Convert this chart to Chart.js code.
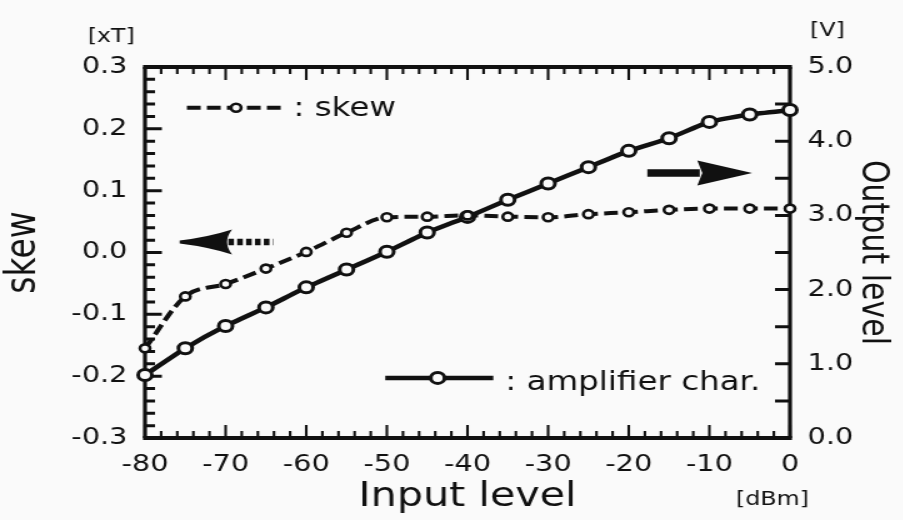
<!DOCTYPE html>
<html>
<head>
<meta charset="utf-8">
<script src="https://cdn.jsdelivr.net/npm/chart.js@4.4.0/dist/chart.umd.min.js"></script>
<style>
  html, body { margin: 0; padding: 0; background: #fafafa; overflow: hidden; }
  #wrap { width: 722px; height: 520px; transform: scaleX(1.25); transform-origin: 0 0; position: relative; }
  canvas { display: block; }
</style>
</head>
<body>
<div id="wrap"><canvas id="c"></canvas></div>
<script>
// ---- data ----
const inputLevel = [-80, -75, -70, -65, -60, -55, -50, -45, -40, -35, -30, -25, -20, -15, -10, -5, 0];
const skewValues = [-0.155, -0.071, -0.051, -0.026, 0.001, 0.032, 0.057, 0.058, 0.060, 0.058, 0.057, 0.062, 0.065, 0.069, 0.071, 0.071, 0.071];
const amplifierValues = [0.85, 1.21, 1.51, 1.76, 2.03, 2.27, 2.51, 2.77, 2.98, 3.21, 3.43, 3.65, 3.87, 4.04, 4.26, 4.36, 4.42];
const xTickValues = [-80, -70, -60, -50, -40, -30, -20, -10, 0];
const skewTickValues = [-0.3, -0.2, -0.1, 0.0, 0.1, 0.2, 0.3];
const outputTickValues = [0, 1, 2, 3, 4, 5];

// ---- annotation placement (data coordinates) ----
const skewLegend = { x1: -74.8, x2: -62.6, marker: -68.7, textX: -61.6, y: 0.234, label: ': skew' };
const ampLegend = { x1: -50.2, x2: -36.8, marker: -43.7, textX: -35.3, y: 0.81, label: ': amplifier char.' };
const arrowLeft = { tipX: -75.7, backX: -69.2, tailX: -64.1, y: 0.017 };
const arrowRight = { tailX: -17.7, backX: -11.5, tipX: -4.7, y: 3.57 };

const INK = '#111';
const FONT = '"DejaVu Sans", "Liberation Sans", sans-serif';
Chart.defaults.font.family = FONT;
Chart.defaults.color = INK;

const framePlugin = {
  id: 'frame',
  beforeDatasetsDraw(chart) {
    const { ctx, chartArea: a, scales } = chart;
    const x = scales.x, y = scales.y, y2 = scales.y2;
    ctx.save();
    ctx.strokeStyle = INK;
    ctx.lineCap = 'butt';
    // frame
    ctx.lineWidth = 4;
    ctx.beginPath();
    ctx.moveTo(a.left - 1.6, a.bottom); ctx.lineTo(a.right + 1.6, a.bottom);
    ctx.moveTo(a.left - 1.6, a.top); ctx.lineTo(a.right + 1.6, a.top);
    ctx.stroke();
    ctx.lineWidth = 3.2;
    ctx.beginPath();
    ctx.moveTo(a.left, a.top); ctx.lineTo(a.left, a.bottom);
    ctx.moveTo(a.right, a.top); ctx.lineTo(a.right, a.bottom);
    ctx.stroke();
    // x ticks (top and bottom), inward
    ctx.lineWidth = 2.1;
    ctx.beginPath();
    for (let i = 0; i <= 40; i++) {
      const v = -80 + 2 * i;
      const px = x.getPixelForValue(v);
      const len = (i % 5 === 0) ? 13 : 7;
      ctx.moveTo(px, a.bottom); ctx.lineTo(px, a.bottom - len);
      ctx.moveTo(px, a.top); ctx.lineTo(px, a.top + len);
    }
    ctx.stroke();
    // left ticks
    ctx.lineWidth = 3;
    ctx.beginPath();
    for (let i = 0; i <= 30; i++) {
      const v = -0.3 + 0.02 * i;
      const py = y.getPixelForValue(v);
      const len = (i % 5 === 0) ? 13.5 : 8;
      ctx.moveTo(a.left, py); ctx.lineTo(a.left + len, py);
    }
    ctx.stroke();
    // right ticks
    ctx.beginPath();
    for (let i = 0; i <= 10; i++) {
      const py = y2.getPixelForValue(0.5 * i);
      ctx.moveTo(a.right, py); ctx.lineTo(a.right - 12, py);
    }
    ctx.stroke();
    ctx.restore();
  }
};

function drawMarker(ctx, ds, px, py) {
  ctx.save();
  ctx.beginPath();
  ctx.arc(px, py, ds.pointRadius, 0, Math.PI * 2);
  ctx.fillStyle = ds.pointBackgroundColor;
  ctx.fill();
  ctx.lineWidth = ds.pointBorderWidth;
  ctx.strokeStyle = ds.pointBorderColor;
  ctx.stroke();
  ctx.restore();
}

const annotPlugin = {
  id: 'annot',
  afterDatasetsDraw(chart) {
    const { ctx, chartArea: a, scales } = chart;
    const x = scales.x, y = scales.y, y2 = scales.y2;
    const dsSkew = chart.data.datasets[0];
    const dsAmp = chart.data.datasets[1];
    ctx.save();
    // skew legend
    let ly = y.getPixelForValue(skewLegend.y);
    ctx.strokeStyle = INK;
    ctx.lineWidth = dsSkew.borderWidth;
    ctx.setLineDash(dsSkew.borderDash);
    ctx.beginPath();
    ctx.moveTo(x.getPixelForValue(skewLegend.x1), ly);
    ctx.lineTo(x.getPixelForValue(skewLegend.x2), ly);
    ctx.stroke();
    ctx.setLineDash([]);
    drawMarker(ctx, dsSkew, x.getPixelForValue(skewLegend.marker), ly);
    ctx.fillStyle = INK;
    ctx.font = '26px ' + FONT;
    ctx.textBaseline = 'middle';
    ctx.textAlign = 'left';
    ctx.fillText(skewLegend.label, x.getPixelForValue(skewLegend.textX), ly + 1);
    // amplifier legend
    ly = y2.getPixelForValue(ampLegend.y);
    ctx.lineWidth = dsAmp.borderWidth;
    ctx.beginPath();
    ctx.moveTo(x.getPixelForValue(ampLegend.x1), ly);
    ctx.lineTo(x.getPixelForValue(ampLegend.x2), ly);
    ctx.stroke();
    drawMarker(ctx, dsAmp, x.getPixelForValue(ampLegend.marker), ly);
    ctx.fillText(ampLegend.label, x.getPixelForValue(ampLegend.textX), ly + 5);

    // left arrow (dart head + dotted tail)
    let ay = y.getPixelForValue(arrowLeft.y);
    let tip = x.getPixelForValue(arrowLeft.tipX);
    let back = x.getPixelForValue(arrowLeft.backX);
    let tail = x.getPixelForValue(arrowLeft.tailX);
    ctx.fillStyle = INK;
    ctx.beginPath();
    ctx.moveTo(tip, ay - 1.5);
    ctx.quadraticCurveTo(tip + (back - tip) * 0.55, ay - 5, back, ay - 12.5);
    ctx.quadraticCurveTo(back - 8, ay, back, ay + 12.5);
    ctx.quadraticCurveTo(tip + (back - tip) * 0.55, ay + 5, tip, ay + 1.5);
    ctx.closePath();
    ctx.fill();
    ctx.strokeStyle = INK;
    ctx.lineWidth = 6.5;
    ctx.setLineDash([4.5, 2.6]);
    ctx.beginPath();
    ctx.moveTo(back - 3, ay);
    ctx.lineTo(tail, ay);
    ctx.stroke();
    ctx.setLineDash([]);

    // right arrow
    ay = y2.getPixelForValue(arrowRight.y);
    tip = x.getPixelForValue(arrowRight.tipX);
    back = x.getPixelForValue(arrowRight.backX);
    tail = x.getPixelForValue(arrowRight.tailX);
    ctx.lineWidth = 7.5;
    ctx.beginPath();
    ctx.moveTo(tail, ay);
    ctx.lineTo(back + 2, ay);
    ctx.stroke();
    ctx.beginPath();
    ctx.moveTo(tip, ay);
    ctx.lineTo(back, ay - 12.5);
    ctx.lineTo(back + 4, ay);
    ctx.lineTo(back, ay + 12.5);
    ctx.closePath();
    ctx.fill();

    // unit labels
    ctx.font = '19px ' + FONT;
    ctx.textAlign = 'center';
    ctx.fillText('[xT]', a.left - 27, a.top - 30);
    ctx.fillText('[V]', a.right + 30, a.top - 36);
    ctx.fillText('[dBm]', a.right - 14, a.bottom + 62);
    ctx.restore();
  }
};

const fmt1 = v => Number(v).toFixed(1);
const tickFont = { size: 23 };

new Chart(document.getElementById('c'), {
  type: 'line',
  data: {
    datasets: [
      {
        label: 'skew',
        data: inputLevel.map((v, i) => ({ x: v, y: skewValues[i] })),
        yAxisID: 'y',
        borderColor: INK,
        borderWidth: 4,
        borderDash: [11, 5],
        cubicInterpolationMode: 'monotone',
        pointRadius: 4,
        pointBorderWidth: 2.6,
        pointBackgroundColor: '#fafafa',
        pointBorderColor: INK,
        pointStyle: 'circle',
        clip: false
      },
      {
        label: 'amplifier char.',
        data: inputLevel.map((v, i) => ({ x: v, y: amplifierValues[i] })),
        yAxisID: 'y2',
        borderColor: INK,
        borderWidth: 4.5,
        tension: 0.15,
        pointRadius: 5.5,
        pointBorderWidth: 3,
        pointBackgroundColor: '#fafafa',
        pointBorderColor: INK,
        pointStyle: 'circle',
        clip: false
      }
    ]
  },
  options: {
    responsive: true,
    maintainAspectRatio: false,
    animation: false,
    layout: { padding: { top: 67, left: 0, right: 0, bottom: 0 } },
    plugins: { legend: { display: false }, tooltip: { enabled: false } },
    scales: {
      x: {
        type: 'linear', position: 'bottom', min: -80, max: 0,
        grid: { display: false, drawTicks: false },
        border: { display: false },
        afterBuildTicks: s => { s.ticks = xTickValues.map(v => ({ value: v })); },
        afterFit: s => { s.height = 82; },
        ticks: { padding: 13, font: tickFont, color: INK, maxRotation: 0, autoSkip: false, callback: v => String(v) },
        title: { display: true, text: 'Input level', font: { size: 33 }, color: INK, padding: { top: 0, bottom: 3 } }
      },
      y: {
        type: 'linear', position: 'left', min: -0.3, max: 0.3,
        grid: { display: false, drawTicks: false },
        border: { display: false },
        afterBuildTicks: s => { s.ticks = skewTickValues.map(v => ({ value: v })); },
        afterFit: s => { s.width = 116; },
        ticks: { padding: 14, font: tickFont, color: INK, callback: fmt1 },
        title: { display: true, text: 'skew', font: { size: 33 }, color: INK, padding: { top: 0, bottom: 0 } }
      },
      y2: {
        type: 'linear', position: 'right', min: 0, max: 5,
        grid: { display: false, drawTicks: false },
        border: { display: false },
        afterBuildTicks: s => { s.ticks = outputTickValues.map(v => ({ value: v })); },
        afterFit: s => { s.width = 90; },
        ticks: { padding: 14, font: tickFont, color: INK, callback: fmt1 },
        title: { display: true, text: 'Output level', font: { size: 30 }, color: INK, padding: { top: 6, bottom: 0 } }
      }
    }
  },
  plugins: [framePlugin, annotPlugin]
});
</script>
</body>
</html>
